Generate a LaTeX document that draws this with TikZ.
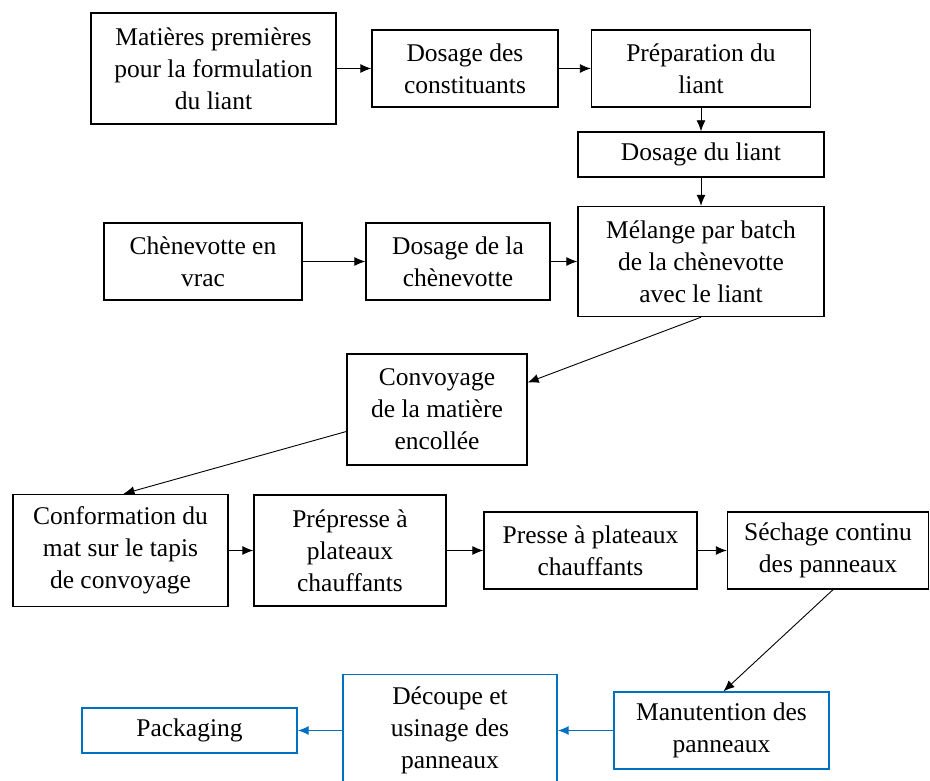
\documentclass[tikz,border=0pt]{standalone}
\usepackage{fontspec}
\setmainfont{Liberation Serif}
\usetikzlibrary{positioning,arrows.meta}
\definecolor{wordblue}{RGB}{0,112,192}
\tikzset{
  flowarrow/.style={-{Latex[length=11pt,width=9pt]}, line width=0.9pt},
  flowarrow2/.style={flowarrow, draw=wordblue, line width=1.2pt},
  procbox/.style={draw, line width=1.4pt, fill=white, inner sep=2pt, align=center, font=\fontsize{25.5}{32}\selectfont},
  procbox2/.style={procbox, draw=wordblue}
}

\begin{document}
\begin{tikzpicture}[x=1pt, y=-1pt]
  \useasboundingbox (0,0) rectangle (930,781);
  % liant
  \node[procbox, minimum width=245pt, minimum height=111pt] (raw) at (213.5,68.5) {Matières premières\\ pour la formulation\\ du liant};
  \node[procbox, minimum width=186pt, minimum height=77pt] (dosconst) at (465,68.5) {Dosage des\\ constituants};
  \node[procbox, minimum width=219pt, minimum height=77pt] (prep) at (701,68.5) {Préparation du\\ liant};
  \node[procbox, minimum width=246pt, minimum height=45pt] (dosliant) at (701,154.5) {Dosage du liant};
  % chenevotte
  \node[procbox, minimum width=246pt, minimum height=110pt] (melange) at (701,261.5) {Mélange par batch\\ de la chènevotte\\ avec le liant};
  \node[procbox, minimum width=198pt, minimum height=77pt] (chenev) at (203,261.5) {Chènevotte en\\ vrac};
  \node[procbox, minimum width=184pt, minimum height=77pt] (doschen) at (458,261.5) {Dosage de la\\ chènevotte};
  \node[procbox, minimum width=180pt, minimum height=111pt] (convoy) at (437,409.5) {Convoyage\\ de la matière\\ encollée};
  % pressage
  \node[procbox, minimum width=215pt, minimum height=112pt] (conform) at (120.5,550.5) {Conformation du\\ mat sur le tapis\\ de convoyage};
  \node[procbox, minimum width=192pt, minimum height=111pt] (prepress) at (350,550.5) {Prépresse à\\ plateaux\\ chauffants};
  \node[procbox, minimum width=213pt, minimum height=77pt] (presse) at (590.5,550.5) {Presse à plateaux\\ chauffants};
  \node[procbox, minimum width=201pt, minimum height=77pt] (sechage) at (828,550.5) {Séchage continu\\ des panneaux};
  % finition
  \node[procbox2, minimum width=215pt, minimum height=77pt] (manut) at (721.5,730.5) {Manutention des\\ panneaux};
  \node[procbox2, minimum width=214pt, minimum height=112pt] (decoupe) at (450,730.5) {Découpe et\\ usinage des\\ panneaux};
  \node[procbox2, minimum width=215pt, minimum height=45pt] (packaging) at (189.5,730.5) {Packaging};

  \draw[flowarrow] (raw) -- (dosconst);
  \draw[flowarrow] (dosconst) -- (prep);
  \draw[flowarrow] (prep) -- (dosliant);
  \draw[flowarrow] (dosliant) -- (melange);
  \draw[flowarrow] (chenev) -- (doschen);
  \draw[flowarrow] (doschen) -- (melange);
  \draw[flowarrow] (melange.south) -- ([yshift=27pt]convoy.east);
  \draw[flowarrow] ([yshift=-22pt]convoy.west) -- ([xshift=3pt]conform.north);
  \draw[flowarrow] (conform) -- (prepress);
  \draw[flowarrow] (prepress) -- (presse);
  \draw[flowarrow] (presse) -- (sechage);
  \draw[flowarrow] ([xshift=5pt]sechage.south) -- ([xshift=2pt]manut.north);
  \draw[flowarrow2] (manut) -- (decoupe);
  \draw[flowarrow2] (decoupe) -- (packaging);
\end{tikzpicture}
\end{document}
